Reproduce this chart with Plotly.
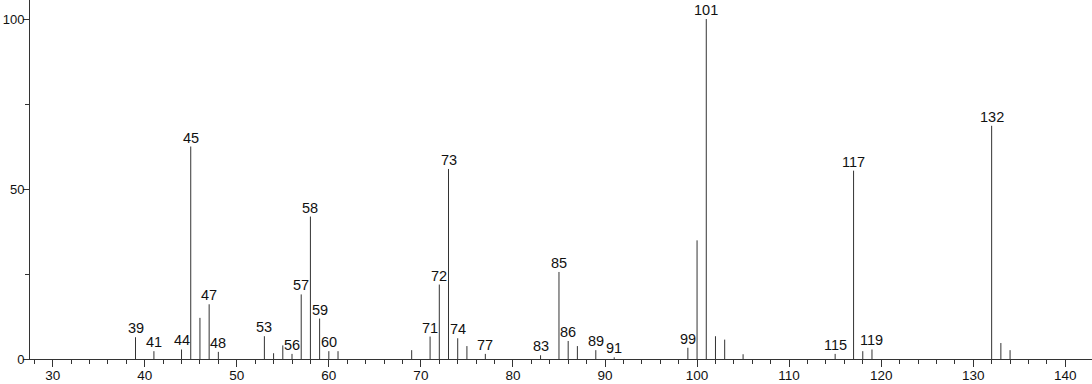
import plotly.graph_objects as go

mz = [39, 41, 44, 45, 46, 47, 48, 53, 54, 55, 56, 57, 58, 59, 60, 61, 69, 71, 72, 73,
      74, 75, 77, 83, 85, 86, 87, 89, 91, 99, 100, 101, 102, 103, 105, 115, 117, 118,
      119, 132, 133, 134]
intensity = [6.4, 2.3, 2.8, 62.5, 12.1, 16.1, 2.1, 6.7, 1.7, 4.0, 1.5, 19.0, 41.9, 11.9,
             2.3, 2.3, 2.6, 6.6, 21.9, 55.9, 6.1, 3.8, 1.5, 1.1, 25.6, 5.3, 3.8, 2.6, 0.5,
             3.3, 34.9, 100.0, 6.7, 5.7, 1.4, 1.5, 55.4, 2.3, 2.8, 68.6, 4.7, 2.6]
labeled = [39, 41, 44, 45, 47, 48, 53, 56, 57, 58, 59, 60, 71, 72, 73, 74, 77, 83, 85,
           86, 89, 91, 99, 101, 115, 117, 119, 132]

xs, ys = [], []
for m, h in zip(mz, intensity):
    xs += [m, m, None]
    ys += [0, h, None]

fig = go.Figure()
fig.add_trace(go.Scatter(x=xs, y=ys, mode="lines",
                         line=dict(color="#333333", width=1), hoverinfo="skip",
                         showlegend=False))

lx = [m for m in mz if m in labeled]
ly = [h for m, h in zip(mz, intensity) if m in labeled]
for m, h in zip(lx, ly):
    fig.add_annotation(x=m, y=h, text=str(m), showarrow=False, yanchor="bottom",
                       xanchor="center", yshift=-1,
                       font=dict(family="Liberation Sans, Arial", size=14.5, color="#111"))

fig.update_layout(
    width=1092, height=384,
    margin=dict(l=30, r=0, t=0, b=25, autoexpand=False),
    paper_bgcolor="white", plot_bgcolor="white",
    font=dict(family="Liberation Sans, Arial", size=14, color="#111"),
)
fig.update_xaxes(range=[27.54, 142.9], tickmode="array", tickvals=list(range(30, 141, 10)),
                 ticks="outside", ticklen=7, tickcolor="#333", showline=True,
                 linecolor="#333", linewidth=1, showgrid=False, zeroline=False,
                 tickfont=dict(size=13.5), automargin=False, ticklabelstandoff=-3,
                 minor=dict(tickmode="array", tickvals=list(range(28, 141, 2)),
                            ticks="outside", ticklen=4, tickcolor="#333", showgrid=False))
fig.update_yaxes(range=[0, 105.6], tickmode="array", tickvals=[0, 50, 100],
                 ticks="outside", ticklen=6, tickcolor="#333", showline=True,
                 linecolor="#333", linewidth=1, showgrid=False, zeroline=False,
                 tickfont=dict(size=13), automargin=False, ticklabelstandoff=-4,
                 minor=dict(tickmode="array", tickvals=[25, 75], ticks="outside",
                            ticklen=4, tickcolor="#333", showgrid=False))

fig.write_html("out.html")
